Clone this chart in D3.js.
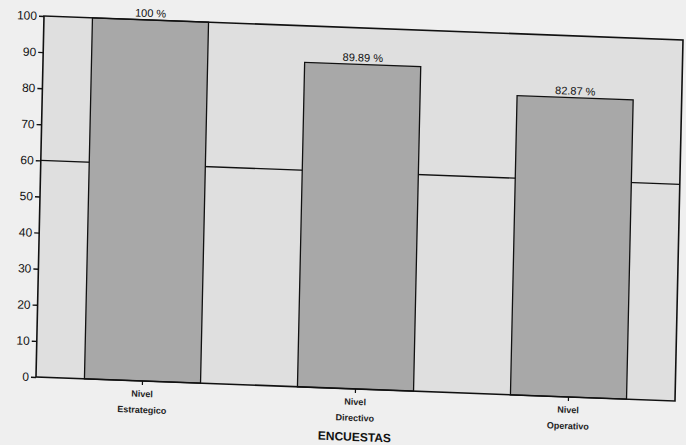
<!DOCTYPE html>
<html>
<head>
<meta charset="utf-8">
<script src="https://cdn.jsdelivr.net/npm/d3@7"></script>
<style>
  body { margin: 0; background: #efefef; }
  svg { display: block; font-family: Arial, "Liberation Sans", sans-serif; }
</style>
</head>
<body>
<div id="chart"></div>
<script>
// data
const categories = ["Nivel Estrategico", "Nivel Directivo", "Nivel Operativo"];
const values = [100, 89.89, 82.87];
const valueLabels = ["100 %", "89.89 %", "82.87 %"];
const yTicks = [0, 10, 20, 30, 40, 50, 60, 70, 80, 90, 100];
const refValue = 60;
const xTitle = "ENCUESTAS";

const width = 686, height = 445;
const W = 639, H = 361;

const svg = d3.select("#chart")
  .append("svg")
  .attr("width", width)
  .attr("height", height);

// the scanned page is slightly skewed, so the plot is drawn in a tilted frame
const g = svg.append("g")
  .attr("transform", "matrix(1, 0.0375, -0.0222, 1, 44, 16)");

const x = d3.scaleBand()
  .domain(categories)
  .range([0, W])
  .paddingInner(0.455)
  .paddingOuter(0.2275);

const y = d3.scaleLinear()
  .domain([0, 100])
  .range([H, 0]);

// plot background
g.append("rect")
  .attr("width", W)
  .attr("height", H)
  .attr("fill", "#dfdfdf");

// reference line behind the bars
g.append("line")
  .attr("x1", 0)
  .attr("x2", W)
  .attr("y1", y(refValue))
  .attr("y2", y(refValue))
  .attr("stroke", "#111")
  .attr("stroke-width", 1.4);

// bars
g.selectAll(".bar")
  .data(values)
  .join("rect")
  .attr("class", "bar")
  .attr("x", (d, i) => x(categories[i]))
  .attr("y", d => y(d))
  .attr("width", x.bandwidth())
  .attr("height", d => H - y(d))
  .attr("fill", "#a8a8a8")
  .attr("stroke", "#111")
  .attr("stroke-width", 1.3);

// labels above bars
g.selectAll(".vlabel")
  .data(values)
  .join("text")
  .attr("class", "vlabel")
  .attr("x", (d, i) => x(categories[i]) + x.bandwidth() / 2)
  .attr("y", d => y(d) - 3)
  .attr("text-anchor", "middle")
  .attr("font-size", 11)
  .attr("fill", "#111")
  .text((d, i) => valueLabels[i]);

// frame
g.append("rect")
  .attr("width", W)
  .attr("height", H)
  .attr("fill", "none")
  .attr("stroke", "#111")
  .attr("stroke-width", 1.6);

// y axis
const yAxis = g.append("g")
  .call(d3.axisLeft(y).tickValues(yTicks).tickSize(5).tickPadding(2));
yAxis.select(".domain").remove();
yAxis.selectAll("line").attr("stroke", "#111").attr("stroke-width", 1.4);
yAxis.selectAll("text")
  .attr("font-size", 12)
  .attr("font-family", "Arial, 'Liberation Sans', sans-serif")
  .attr("fill", "#111");

// x axis with two-line labels
const xAxis = g.append("g")
  .attr("transform", `translate(0,${H})`)
  .call(d3.axisBottom(x).tickSize(4).tickFormat(""));
xAxis.select(".domain").remove();
xAxis.selectAll("line").attr("stroke", "#111").attr("stroke-width", 1.2);

const xl = g.selectAll(".xlabel")
  .data(categories)
  .join("text")
  .attr("class", "xlabel")
  .attr("x", d => x(d) + x.bandwidth() / 2)
  .attr("y", H + 16)
  .attr("text-anchor", "middle")
  .attr("font-size", 9)
  .attr("font-weight", "bold")
  .attr("fill", "#222");
xl.selectAll("tspan")
  .data(d => d.split(" "))
  .join("tspan")
  .attr("x", function() { return d3.select(this.parentNode).attr("x"); })
  .attr("dy", (d, i) => i === 0 ? 0 : 16)
  .text(d => d);

// axis title
g.append("text")
  .attr("x", x(categories[1]) + x.bandwidth() / 2)
  .attr("y", H + 52)
  .attr("text-anchor", "middle")
  .attr("font-size", 12)
  .attr("font-weight", "bold")
  .attr("fill", "#111")
  .text(xTitle);
</script>
</body>
</html>
